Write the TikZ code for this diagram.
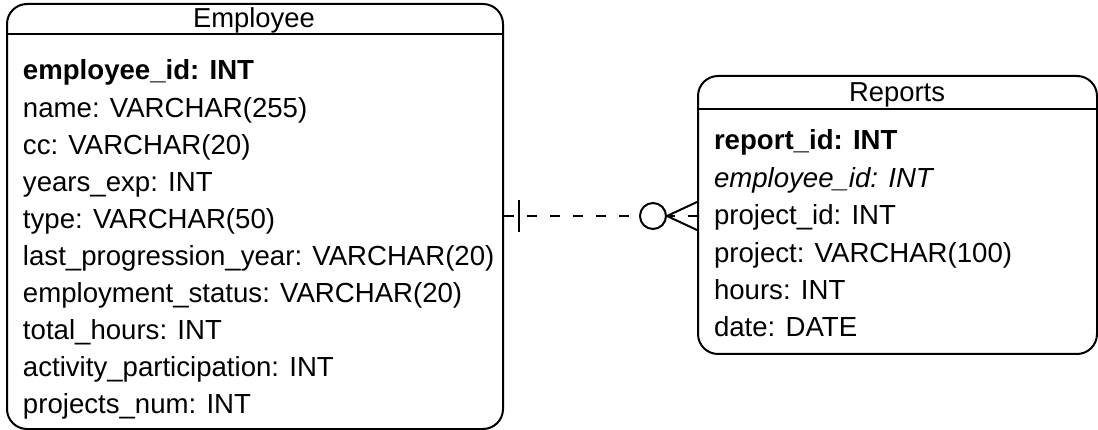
\documentclass[tikz,border=0pt]{standalone}
\usepackage{fontspec}
\setmainfont{Liberation Sans}
\usetikzlibrary{calc}
\begin{document}
\begin{tikzpicture}[x=1pt,y=-1pt,
  line width=2pt, line join=round,
  table/.style={draw, rounded corners=20pt, anchor=north west, inner sep=0pt},
  field/.style={anchor=base west, inner sep=0pt, font=\fontsize{27.6}{33}\selectfont},
  title/.style={anchor=base, inner sep=0pt, font=\fontsize{27.4}{33}\selectfont},
  rel/.style={dash pattern=on 10pt off 13pt}]
\useasboundingbox (0,0) rectangle (1098,430);

% Employee table
\node[table, minimum width=496pt, minimum height=425pt] (emp) at (6,3) {};
\draw ([yshift=-31pt]emp.north west) -- ([yshift=-31pt]emp.north east);
\node[title] (empT) at (254,28) {Employee};
\node[field] (e0) at (22,80) {\textbf{employee\_id: INT}};
\foreach \t [count=\i] in {name: VARCHAR(255), cc: VARCHAR(20), years\_exp: INT,
  type: VARCHAR(50), last\_progression\_year: VARCHAR(20),
  employment\_status: VARCHAR(20), total\_hours: INT,
  activity\_participation: INT, projects\_num: INT}
  \node[field] (e\i) at (22,80+37.1*\i) {\t};

% Reports table
\node[table, minimum width=399pt, minimum height=278pt] (rep) at (697,75) {};
\draw ([yshift=-34pt]rep.north west) -- ([yshift=-34pt]rep.north east);
\node[title] (repT) at (897,102) {Reports};
\node[field] (r0) at (713,150) {\textbf{report\_id: INT}};
\node[field] (r1) at (713,187.4) {\textit{employee\_id: INT}};
\foreach \t [count=\i from 2] in {project\_id: INT, project: VARCHAR(100),
  hours: INT, date: DATE}
  \node[field] (r\i) at (713,150+37.4*\i) {\t};

% Relationship: exactly one employee to zero or many reports
\coordinate (a) at (emp.east |- 0,216);
\coordinate (b) at (rep.west |- 0,216);
\draw[rel] (a) -- (b);
\draw ($(a)+(15,-16)$) -- ($(a)+(15,16)$);
\coordinate (foot) at ($(b)+(-30,0)$);
\draw ($(b)+(0,-14)$) -- (foot) -- ($(b)+(0,14)$);
\node[draw, fill=white, circle, minimum size=26pt, inner sep=0pt] (zero) at ($(foot)+(-14,0)$) {};
\end{tikzpicture}
\end{document}
